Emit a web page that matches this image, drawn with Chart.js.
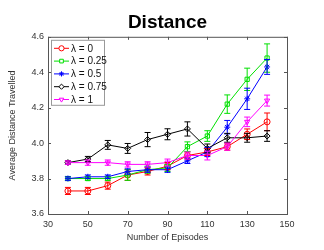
<!DOCTYPE html>
<html>
<head>
<meta charset="utf-8">
<script src="https://cdn.jsdelivr.net/npm/chart.js@4"></script>
<style>
  html, body { margin: 0; padding: 0; background: #fff; }
  #wrap { width: 324px; height: 250px; }
</style>
</head>
<body>
<div id="wrap"><canvas id="distChart" width="324" height="250"></canvas></div>
<script>
// episodes on the x axis
const episodes = [40, 50, 60, 70, 80, 90, 100, 110, 120, 130, 140];

// mean distance per lambda
const lam0    = [3.73, 3.73, 3.76, 3.82, 3.84, 3.87, 3.93, 3.95, 3.98, 4.05, 4.12];
const lam025  = [3.80, 3.80, 3.80, 3.82, 3.85, 3.86, 3.98, 4.04, 4.22, 4.36, 4.48];
const lam05   = [3.80, 3.81, 3.81, 3.84, 3.85, 3.85, 3.90, 3.95, 4.09, 4.25, 4.43];
const lam075  = [3.89, 3.91, 3.99, 3.97, 4.02, 4.05, 4.08, 3.97, 4.03, 4.03, 4.04];
const lam1    = [3.89, 3.89, 3.89, 3.88, 3.88, 3.89, 3.93, 3.93, 3.98, 4.12, 4.24];

// error bar half-widths
const err0    = [0.02, 0.02, 0.02, 0.03, 0.02, 0.02, 0.02, 0.02, 0.02, 0.03, 0.05];
const err025  = [0.01, 0.01, 0.01, 0.03, 0.02, 0.02, 0.027, 0.03, 0.052, 0.063, 0.08];
const err05   = [0.01, 0.01, 0.01, 0.015, 0.015, 0.015, 0.015, 0.026, 0.038, 0.06, 0.042];
const err075  = [0.01, 0.015, 0.025, 0.028, 0.04, 0.031, 0.04, 0.025, 0.025, 0.025, 0.03];
const err1    = [0.01, 0.015, 0.015, 0.015, 0.015, 0.02, 0.02, 0.025, 0.02, 0.027, 0.031];

const seriesLabels = ['λ = 0', 'λ = 0.25', 'λ = 0.5', 'λ = 0.75', 'λ = 1'];
const xTicks = [30, 50, 70, 90, 110, 130, 150];
const yTicks = [3.6, 3.8, 4, 4.2, 4.4, 4.6];

const FONT = 'Liberation Sans, Arial, Helvetica, sans-serif';
const AXIS = '#555';

function makeSet(i, vals, errs, color, style, rot) {
    return {
        label: seriesLabels[i],
        data: episodes.map((x, k) => ({ x: x, y: vals[k] })),
        errors: errs,
        borderColor: color,
        backgroundColor: 'rgba(0,0,0,0)',
        pointBackgroundColor: 'rgba(0,0,0,0)',
        pointBorderColor: color,
        pointStyle: style,
        pointRotation: rot || 0,
        pointRadius: 3,
        pointBorderWidth: 1,
        borderWidth: 1,
        tension: 0,
        order: 4 - i
    };
}

// error bars, frame, inward ticks and legend
const extras = {
    id: 'extras',
    afterDatasetsDraw(chart) {
        const c = chart.ctx, xs = chart.scales.x, ys = chart.scales.y;
        chart.data.datasets.forEach(ds => {
            c.save();
            c.strokeStyle = ds.borderColor;
            c.lineWidth = 1;
            ds.data.forEach((p, k) => {
                const px = xs.getPixelForValue(p.x);
                const top = ys.getPixelForValue(p.y + ds.errors[k]);
                const bot = ys.getPixelForValue(p.y - ds.errors[k]);
                c.beginPath();
                c.moveTo(px, top); c.lineTo(px, bot);
                c.moveTo(px - 3, top); c.lineTo(px + 3, top);
                c.moveTo(px - 3, bot); c.lineTo(px + 3, bot);
                c.stroke();
            });
            c.restore();
        });
    },
    afterDraw(chart) {
        const c = chart.ctx, a = chart.chartArea, xs = chart.scales.x, ys = chart.scales.y;
        c.save();
        c.strokeStyle = AXIS;
        c.lineWidth = 1;
        c.strokeRect(a.left + 0.5, a.top + 0.5, a.right - a.left, a.bottom - a.top);
        c.beginPath();
        xTicks.forEach(v => {
            const px = Math.round(xs.getPixelForValue(v)) + 0.5;
            c.moveTo(px, a.bottom); c.lineTo(px, a.bottom - 3);
            c.moveTo(px, a.top); c.lineTo(px, a.top + 3);
        });
        yTicks.forEach(v => {
            const py = Math.round(ys.getPixelForValue(v)) + 0.5;
            c.moveTo(a.left, py); c.lineTo(a.left + 3, py);
            c.moveTo(a.right, py); c.lineTo(a.right - 3, py);
        });
        c.stroke();

        // legend box in the top-left corner
        const lx = a.left + 3, ly = a.top + 3, lw = 53, lh = 65, row = 12.8;
        c.fillStyle = '#fff';
        c.fillRect(lx, ly, lw, lh);
        c.strokeStyle = '#999';
        c.strokeRect(lx + 0.5, ly + 0.5, lw, lh);
        c.font = '10px ' + FONT;
        c.textBaseline = 'middle';
        chart.data.datasets.forEach((ds, i) => {
            const y = ly + 8.5 + i * row;
            c.strokeStyle = ds.borderColor;
            c.lineWidth = 1;
            c.beginPath();
            c.moveTo(lx + 3, y); c.lineTo(lx + 18, y);
            c.stroke();
            c.fillStyle = '#fff';
            Chart.helpers.drawPoint(c, {
                pointStyle: ds.pointStyle, rotation: ds.pointRotation,
                radius: 2.6, borderWidth: 1
            }, lx + 10.5, y);
            c.fillStyle = '#111';
            c.fillText(ds.label, lx + 20, y + 0.5);
        });
        c.restore();
    }
};

new Chart(document.getElementById('distChart'), {
    type: 'line',
    data: {
        datasets: [
            makeSet(0, lam0, err0, '#ff0000', 'circle'),
            makeSet(1, lam025, err025, '#00e000', 'rect'),
            makeSet(2, lam05, err05, '#0000ff', 'star'),
            makeSet(3, lam075, err075, '#000000', 'rectRot'),
            makeSet(4, lam1, err1, '#ff00ff', 'triangle', 180)
        ]
    },
    options: {
        responsive: false,
        animation: false,
        layout: { padding: { right: 37 } },
        plugins: {
            legend: { display: false },
            tooltip: { enabled: false },
            title: {
                display: true,
                text: 'Distance',
                fullSize: false,
                color: '#000',
                font: { family: FONT, size: 19, weight: 'bold' },
                padding: { top: 11, bottom: 3 }
            }
        },
        scales: {
            x: {
                type: 'linear',
                min: 30, max: 150,
                afterBuildTicks: s => { s.ticks = xTicks.map(v => ({ value: v })); },
                afterFit: s => { s.height = 36; },
                grid: { display: false, drawTicks: false },
                border: { display: false },
                ticks: { color: '#333', font: { family: FONT, size: 9 }, padding: 5, maxRotation: 0 },
                title: { display: true, text: 'Number of Episodes', color: '#333',
                         font: { family: FONT, size: 9 }, padding: { top: 2, bottom: 7 } }
            },
            y: {
                min: 3.6, max: 4.6,
                afterBuildTicks: s => { s.ticks = yTicks.map(v => ({ value: v })); },
                afterFit: s => { s.width = 48; },
                grid: { display: false, drawTicks: false },
                border: { display: false },
                ticks: { color: '#333', font: { family: FONT, size: 9 }, padding: 4 },
                title: { display: true, text: 'Average Distance Travelled', color: '#333',
                         font: { family: FONT, size: 9 }, padding: { top: 7, bottom: 2 } }
            }
        }
    },
    plugins: [extras]
});
</script>
</body>
</html>
